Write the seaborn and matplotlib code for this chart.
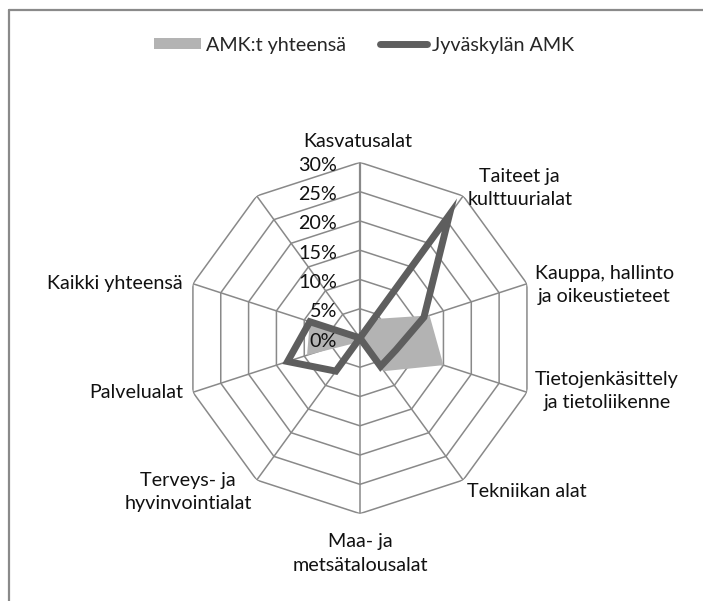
import numpy as np
import pandas as pd
import matplotlib.pyplot as plt
import seaborn as sns
from matplotlib.patches import Patch
from matplotlib.lines import Line2D

# categories clockwise from the top; the tenth spoke has no label in the original
categories = ["Kasvatusalat", "Taiteet ja\nkulttuurialat", "Kauppa, hallinto\nja oikeustieteet",
              "Tietojenkäsittely\nja tietoliikenne", "Tekniikan alat", "Maa- ja\nmetsätalousalat",
              "Terveys- ja\nhyvinvointialat", "Palvelualat", "Kaikki yhteensä", ""]
amk_total = [1.0, 4.0, 12.5, 15.0, 7.0, 1.0, 1.0, 9.5, 9.0, 0.0]
jamk = [0.0, 26.0, 11.5, 6.5, 6.0, 0.0, 7.0, 13.0, 9.0, 0.0]
r_ticks = [0, 5, 10, 15, 20, 25, 30]
r_tick_labels = ["0%", "5%", "10%", "15%", "20%", "25%", "30%"]
series_names = ["AMK:t yhteensä", "Jyväskylän AMK"]

GRID = "#898989"
FILL = "#b3b3b3"
LINE = "#5e5e5e"

sns.set_theme(style="white")
plt.rcParams["font.family"] = ["Lato", "DejaVu Sans"]
FS = 14.2

n = len(categories)
theta = np.linspace(0, 2 * np.pi, n, endpoint=False)
theta_closed = np.append(theta, theta[0])

fig = plt.figure(figsize=(7.03, 6.01), dpi=100)
ax = fig.add_axes([0.2622, 0.1454, 0.4996, 0.5844], projection="polar")
ax.set_theta_zero_location("N")
ax.set_theta_direction(-1)
ax.set_ylim(0, 30)
ax.grid(False)
ax.spines["polar"].set_visible(False)
ax.set_xticks([])
ax.set_yticks([])
ax.patch.set_alpha(0)

# decagon grid rings and spokes
for r in r_ticks[1:]:
    ax.plot(theta_closed, [r] * (n + 1), color=GRID, lw=1.1, zorder=1)
for i, t in enumerate(theta):
    ax.plot([t, t], [0, r_ticks[-1]], color=GRID, lw=1.6 if i == 0 else 1.1, zorder=1)

# series
ax.fill(theta_closed, amk_total + amk_total[:1], color=FILL, lw=0, zorder=2)
df = pd.DataFrame({"theta": theta_closed, "value": jamk + jamk[:1]})
sns.lineplot(data=df, x="theta", y="value", sort=False, ax=ax, color=LINE, lw=5,
             legend=False, zorder=3)
ax.lines[-1].set_solid_joinstyle("miter")
ax.set_xlabel("")
ax.set_ylabel("")

# radial tick labels along the top spoke
for r, lab in zip(r_ticks, r_tick_labels):
    ax.annotate(lab, xy=(0, r), xytext=(-23, -3), textcoords="offset pixels",
                ha="right", va="center", fontsize=FS, color="#111111")

# category labels (offsets from each outer vertex, in pixels)
label_pos = [
    ((-2, 21), "center"),
    ((4, 8), "left"),
    ((8, -1), "left"),
    ((8, 1), "left"),
    ((4, -11), "left"),
    ((0, -40), "center"),
    ((-5, -12), "right"),
    ((-10, 0), "right"),
    ((-10, 0), "right"),
    ((-4, 4), "right"),
]
for t, lab, (off, ha) in zip(theta, categories, label_pos):
    if not lab:
        continue
    ax.annotate(lab, xy=(t, r_ticks[-1]), xytext=off, textcoords="offset pixels",
                ha=ha, va="center", multialignment="center", fontsize=FS,
                color="#111111", linespacing=1.45)

# legend
handles = [Patch(facecolor=FILL, edgecolor="none"),
           Line2D([0], [0], color=LINE, lw=5, solid_capstyle="round")]
fig.legend(handles, series_names, loc="center", bbox_to_anchor=(0.518, 0.925), ncol=2,
           frameon=False, fontsize=FS, handlelength=2.4, handleheight=0.5,
           handletextpad=0.25, columnspacing=1.7)

# outer chart frame (only the left and top edges are visible)
fig.add_artist(Line2D([8.5 / 703, 8.5 / 703], [0, 1 - 10 / 601], color="#8a8a8a", lw=1.6,
                      transform=fig.transFigure))
fig.add_artist(Line2D([8.5 / 703, 1], [1 - 10 / 601, 1 - 10 / 601], color="#8a8a8a", lw=1.6,
                      transform=fig.transFigure))

fig.savefig("out.png", dpi=100)
